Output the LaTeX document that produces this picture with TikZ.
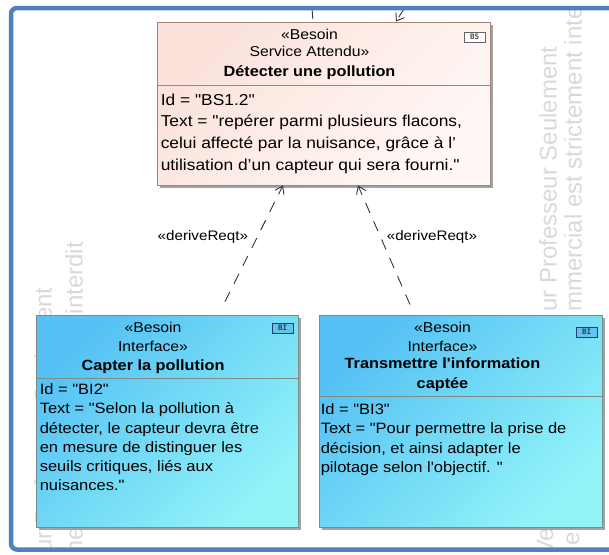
\documentclass[tikz,border=0pt]{standalone}
\usepackage{fontspec}
\setmainfont{Liberation Sans}
\newfontfamily\umlfont{Liberation Sans}[FakeStretch=1.1,Ligatures=TeXOff]
\newfontfamily\badgefont{DejaVu Sans Mono}[Ligatures=TeXOff]
\usetikzlibrary{arrows.meta,shadows}
\definecolor{frameblue}{HTML}{4F81BD}
\definecolor{bstop}{HTML}{FBE2DB}
\definecolor{bsbottom}{HTML}{FFF8F6}
\definecolor{bsborder}{HTML}{9E8676}
\definecolor{bitop}{HTML}{55C1F4}
\definecolor{bibottom}{HTML}{92F3F8}
\definecolor{biborder}{HTML}{7E8A84}
\definecolor{badgeblue}{HTML}{62C4EE}
\definecolor{badgeink}{HTML}{23405E}
\newcommand\umlsize[2]{\fontsize{#1}{#2}\selectfont}
\tikzset{>=Latex,
  frame/.style={draw=frameblue,line width=4.5pt,rounded corners=6pt},
  wmark/.style={rotate=90,anchor=west,inner sep=0,text=black!15,font=\umlsize{24}{24}},
  reqshadow/.style={drop shadow={shadow xshift=3pt,shadow yshift=-3pt,fill=black!40,opacity=.9}},
  bsbox/.style={rectangle,draw=bsborder,line width=.9pt,inner sep=0,reqshadow,
    top color=bstop,bottom color=bsbottom,shading angle=45},
  bibox/.style={rectangle,draw=biborder,line width=.9pt,inner sep=0,reqshadow,
    top color=bitop,bottom color=bibottom,shading angle=45},
  ster/.style={align=center,inner sep=0,font=\umlfont\umlsize{14.3}{17}},
  reqtitle/.style={align=center,inner sep=0,font=\umlfont\bfseries\umlsize{14.8}{20}},
  reqbody/.style={anchor=north west,align=left,inner sep=0},
  badge/.style={anchor=north east,draw=black!60,line width=.6pt,minimum width=21pt,
    minimum height=10pt,inner sep=0,font=\badgefont\bfseries\umlsize{7.5}{8}},
  derive/.style={-{Straight Barb[length=7pt,width=10pt]},draw=black!80,line width=.9pt,
    dash pattern=on 11pt off 9pt},
  dlabel/.style={inner sep=0,font=\umlfont\umlsize{13.8}{16}}}
\begin{document}
\begin{tikzpicture}[x=1pt,y=-1pt]
\useasboundingbox (0,0) rectangle (609,554);
% watermark pieces
\begin{scope}
\clip (11,8) rectangle (609,550);
\node[wmark] (wmla) at (43,553) {ur Professeur Seulement};
\node[wmark] (wmlb) at (74,581) {mmercial est strictement interdit};
\node[wmark] (wmra) at (548,312) {ur Professeur Seulement};
\node[wmark] (wmrb) at (573,312) {mmercial est strictement interdit};
\node[wmark] (wmrc) at (545,556) {Ve};
\node[wmark] (wmrd) at (573,546) {e};
\end{scope}

% besoin service
\node[bsbox,minimum width=333pt,minimum height=163pt] (bs) at (323.5,103.5) {};
\draw[draw=bsborder,line width=.9pt] ([yshift=-64pt]bs.north west) -- ([yshift=-64pt]bs.north east);
\node[ster] (bsster) at ([xshift=-14pt,yshift=-21.5pt]bs.north) {«Besoin\\Service Attendu»};
\node[reqtitle] (bstitle) at ([xshift=-14pt,yshift=-51pt]bs.north) {Détecter une pollution};
\node[badge,fill=white,text=black!70] (bsbadge) at ([xshift=-5pt,yshift=-10pt]bs.north east) {BS};
\node[reqbody,font=\umlfont\umlsize{15.8}{21.7}] (bstext) at ([xshift=4pt,yshift=-72pt]bs.north west)
  {Id = "BS1.2"\\Text = "repérer parmi plusieurs flacons,\\celui affecté par la nuisance, grâce à l’\\utilisation d’un capteur qui sera fourni."};

% besoins interface
\node[bibox,minimum width=262pt,minimum height=212pt] (bi2) at (167,421) {};
\draw[draw=biborder,line width=.9pt] ([yshift=-64pt]bi2.north west) -- ([yshift=-64pt]bi2.north east);
\node[ster,font=\umlfont\umlsize{14.3}{19}] (bi2ster) at ([xshift=-14pt,yshift=-22.5pt]bi2.north) {«Besoin\\Interface»};
\node[reqtitle] (bi2title) at ([xshift=-14pt,yshift=-52pt]bi2.north) {Capter la pollution};
\node[badge,fill=badgeblue,draw=badgeink,text=badgeink] (bi2badge) at ([xshift=-5pt,yshift=-8pt]bi2.north east) {BI};
\node[reqbody,font=\umlfont\umlsize{15}{19.2}] (bi2text) at ([xshift=4pt,yshift=-69pt]bi2.north west)
  {Id = "BI2"\\Text = "Selon la pollution à\\détecter, le capteur devra être\\en mesure de distinguer les\\seuils critiques, liés aux\\nuisances."};

\node[bibox,minimum width=283pt,minimum height=212pt] (bi3) at (460.5,421) {};
\draw[draw=biborder,line width=.9pt] ([yshift=-82pt]bi3.north west) -- ([yshift=-82pt]bi3.north east);
\node[ster,font=\umlfont\umlsize{14.3}{19}] (bi3ster) at ([xshift=-18pt,yshift=-22.5pt]bi3.north) {«Besoin\\Interface»};
\node[reqtitle] (bi3title) at ([xshift=-18pt,yshift=-60pt]bi3.north) {Transmettre l'information\\captée};
\node[badge,fill=badgeblue,draw=badgeink,text=badgeink] (bi3badge) at ([xshift=-5pt,yshift=-12pt]bi3.north east) {BI};
\node[reqbody,font=\umlfont\umlsize{15}{19.2}] (bi3text) at ([xshift=2pt,yshift=-89pt]bi3.north west)
  {Id = "BI3"\\Text = "Pour permettre la prise de\\décision, et ainsi adapter le\\pilotage selon l'objectif. "};

% derive links
\draw[derive] ([xshift=58pt,yshift=13pt]bi2.north) -- node[dlabel,pos=.56,left=9pt] (dlbl2) {«deriveReqt»} ([xshift=-40.5pt]bs.south);
\draw[derive] ([xshift=-50.5pt,yshift=10pt]bi3.north) -- node[dlabel,pos=.57,right=6pt] (dlbl3) {«deriveReqt»} ([xshift=34.5pt]bs.south);
\coordinate (upin1) at (312,8);
\coordinate (upin2) at (404.5,8);
\draw[derive,-] (upin1) -- ([xshift=-10.5pt]bs.north);
\draw[derive] (upin2) -- ([xshift=72.5pt]bs.north);

% frame
\draw[frame] (612,8) -| (11,549.5) -- (612,549.5);
\end{tikzpicture}
\end{document}
